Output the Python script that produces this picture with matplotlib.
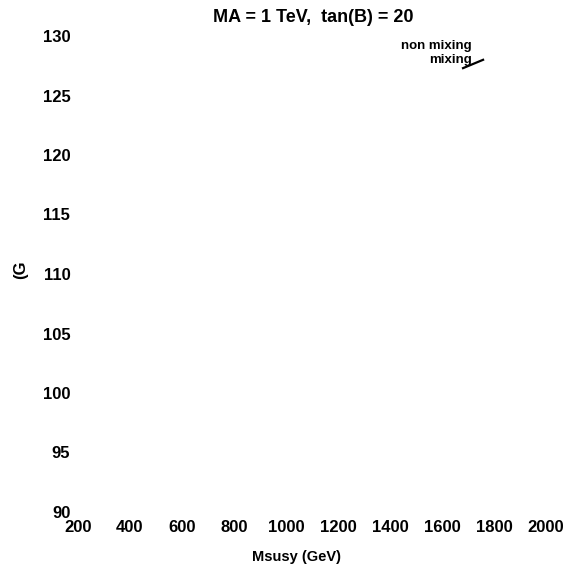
import matplotlib
matplotlib.use("Agg")
import matplotlib.pyplot as plt

plt.rcParams['font.family'] = ['Liberation Sans', 'DejaVu Sans']
plt.rcParams['font.weight'] = 'bold'

# axis ticks
x_ticks = [200, 400, 600, 800, 1000, 1200, 1400, 1600, 1800, 2000]
y_ticks = [90, 95, 100, 105, 110, 115, 120, 125, 130]

# only visible piece of curve (legend sample next to "mixing")
mix_x = [1681, 1758]
mix_y = [127.3, 128.0]

fig = plt.figure(figsize=(5.66, 5.67), dpi=100)
W, H = 566, 567
ax = fig.add_axes([78 / W, (H - 512) / H, (546 - 78) / W, (512 - 36) / H])
ax.set_xlim(200, 2000)
ax.set_ylim(90, 130)
for s in ax.spines.values():
    s.set_visible(False)
ax.set_xticks(x_ticks)
ax.set_yticks(y_ticks)
ax.tick_params(axis='x', length=0, pad=5.5, labelsize=12)
ax.tick_params(axis='y', length=0, pad=5.5, labelsize=12)

ax.plot(mix_x, mix_y, color='black', lw=1.6)

fig.text(313 / W, 1 - 18 / H, 'MA = 1 TeV,  tan(B) = 20', ha='center', va='center', fontsize=13)
fig.text(296 / W, 1 - 557 / H, 'Msusy (GeV)', ha='center', va='center', fontsize=10.5)
fig.text(21 / W, 1 - 270 / H, '(G', ha='center', va='center', fontsize=12, rotation=90)
fig.text(472 / W, 1 - 46 / H, 'non mixing', ha='right', va='center', fontsize=9.5)
fig.text(472 / W, 1 - 60 / H, 'mixing', ha='right', va='center', fontsize=9.5)

fig.savefig('out.png', dpi=100)
